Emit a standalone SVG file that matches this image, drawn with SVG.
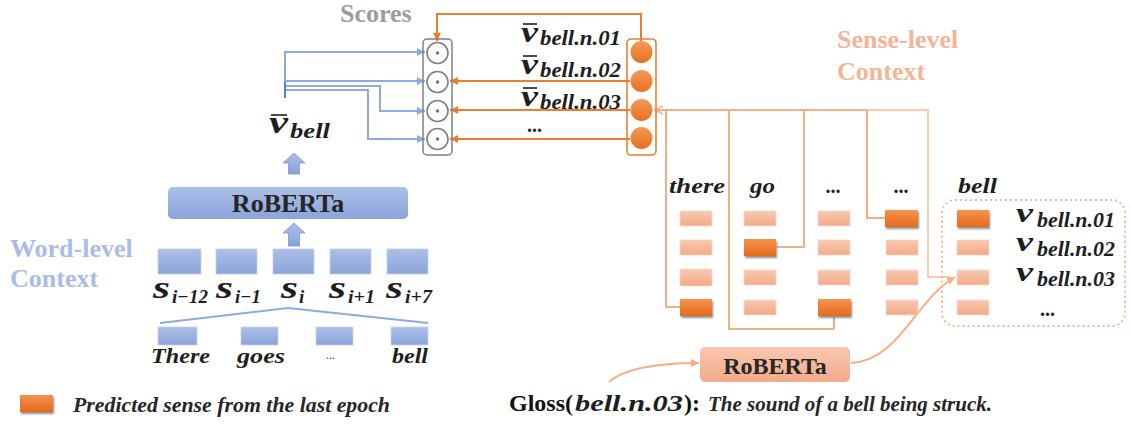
<svg xmlns="http://www.w3.org/2000/svg" width="1130" height="425" viewBox="0 0 1130 425">
  <style>
    .title{font-family:"Liberation Serif","Times New Roman",serif;font-weight:bold}
    .math{font-family:"Liberation Serif","Times New Roman",serif;font-weight:bold;font-style:italic;fill:#1e1e1e}
    .note{font-family:"Liberation Serif",serif;font-weight:bold;font-style:italic;fill:#262626}
    .blueLine{fill:none;stroke:#8faadc;stroke-width:2}
    .orangeLine{fill:none;stroke:#ed7d31;stroke-width:2}
    .salmonLine{fill:none;stroke:#f4ae85;stroke-width:2}
    .paleLine{fill:none;stroke:#f8cbb2;stroke-width:2}
    .wbox{fill:url(#gBlue);stroke:#c3d1ee;stroke-width:0.8}
    .sense{fill:url(#gSalmon);stroke:#fbd9c8;stroke-width:0.8}
    .pred{fill:url(#gOrange);filter:url(#shadow)}
    .scoreCircle{fill:#fff;stroke:#808080;stroke-width:1.6}
    .scoreDot{fill:#707070}
    .vecCircle{fill:url(#gOrangeBall)}
    .bar{stroke:#1e1e1e;stroke-width:1.6}
  </style>
  <defs>
    <linearGradient id="gBlue" x1="0" y1="0" x2="0" y2="1">
      <stop offset="0" stop-color="#acbfe7"/>
      <stop offset="1" stop-color="#8aa3da"/>
    </linearGradient>
    <linearGradient id="gSalmon" x1="0" y1="0" x2="0" y2="1">
      <stop offset="0" stop-color="#f8c8b0"/>
      <stop offset="1" stop-color="#f3aa88"/>
    </linearGradient>
    <linearGradient id="gOrange" x1="0" y1="0" x2="0" y2="1">
      <stop offset="0" stop-color="#f5934d"/>
      <stop offset="1" stop-color="#e56a1b"/>
    </linearGradient>
    <linearGradient id="gOrangeBall" x1="0" y1="0" x2="0" y2="1">
      <stop offset="0" stop-color="#f49a5a"/>
      <stop offset="1" stop-color="#e8701f"/>
    </linearGradient>
    <filter id="shadow" x="-20%" y="-30%" width="150%" height="180%">
      <feDropShadow dx="1" dy="2" stdDeviation="1.2" flood-color="#000" flood-opacity="0.45"/>
    </filter>
    <marker id="arrBlue" viewBox="0 0 10 10" refX="10" refY="5" markerWidth="8" markerHeight="8" markerUnits="userSpaceOnUse" orient="auto">
      <path d="M0,0 L10,5 L0,10 z" fill="#8faadc"/>
    </marker>
    <marker id="arrOrange" viewBox="0 0 10 10" refX="10" refY="5" markerWidth="8" markerHeight="8" markerUnits="userSpaceOnUse" orient="auto">
      <path d="M0,0 L10,5 L0,10 z" fill="#ed7d31"/>
    </marker>
    <marker id="arrOpen" viewBox="0 0 10 10" refX="9" refY="5" markerWidth="10" markerHeight="10" markerUnits="userSpaceOnUse" orient="auto">
      <path d="M1,1 L9,5 L1,9" fill="none" stroke="#f4ae85" stroke-width="1.6"/>
    </marker>
    <marker id="arrSalmon" viewBox="0 0 10 10" refX="10" refY="5" markerWidth="8" markerHeight="8" markerUnits="userSpaceOnUse" orient="auto">
      <path d="M0,0 L10,5 L0,10 z" fill="#f4ae85"/>
    </marker>
  </defs>

  <!-- section titles -->
  <text class="title" x="340" y="22" font-size="26" fill="#9c9c9c">Scores</text>
  <text class="title" x="10" y="257" font-size="26" fill="#a9bce6">Word-level</text>
  <text class="title" x="10" y="287" font-size="26" fill="#a9bce6">Context</text>
  <text class="title" x="837" y="48" font-size="26" fill="#f4b497">Sense-level</text>
  <text class="title" x="837" y="80" font-size="26" fill="#f4b497">Context</text>

  <!-- connectors -->
  <g id="connectors">
    <!-- context vector to the score units -->
    <path class="blueLine" d="M285,98 V52 H425" marker-end="url(#arrBlue)"/>
    <path class="blueLine" d="M285,81 H425" marker-end="url(#arrBlue)"/>
    <path class="blueLine" d="M285,86 H380 V111 H425" marker-end="url(#arrBlue)"/>
    <path class="blueLine" d="M285,90 H368 V139 H425" marker-end="url(#arrBlue)"/>
    <path d="M285,82 V98" stroke="#5b7fc9" stroke-width="2"/>
    <!-- sense vectors to the score units -->
    <path class="orangeLine" d="M641,41 V14 H437 V41" marker-end="url(#arrOrange)"/>
    <path class="orangeLine" d="M630,81 H450" marker-end="url(#arrOrange)"/>
    <path class="orangeLine" d="M630,110 H450" marker-end="url(#arrOrange)"/>
    <path class="orangeLine" d="M630,139 H450" marker-end="url(#arrOrange)"/>
    <!-- predicted senses gathered into the third sense vector -->
    <path class="paleLine" d="M867,110 H928 V277 H950"/>
    <path class="salmonLine" d="M867,110 H655" marker-end="url(#arrOpen)"/>
    <path class="salmonLine" d="M666,110 V307 H680"/>
    <path class="salmonLine" d="M729,110 V329 H834 V317"/>
    <path class="salmonLine" d="M804,110 V247 H777"/>
    <path class="salmonLine" d="M867,110 V218 H886"/>
    <!-- gloss encoding -->
    <path class="salmonLine" d="M609,382 C625,368 660,363 699,363" stroke-width="1.6" marker-end="url(#arrSalmon)"/>
    <path class="salmonLine" d="M851,363 C900,360 915,300 955,277" stroke-width="1.6" marker-end="url(#arrSalmon)"/>
    <!-- tokens to the contextual sentence -->
    <path d="M160,323 L288,308 L428,323" fill="none" stroke="#8faadc" stroke-width="2"/>
  </g>

  <!-- score units -->
  <g id="scores">
    <rect x="423" y="39" width="29" height="116" rx="4" fill="none" stroke="#808080" stroke-width="1.5"/>
    <circle class="scoreCircle" cx="437.5" cy="53" r="10.5"/><circle class="scoreDot" cx="437.5" cy="53" r="1.7"/>
    <circle class="scoreCircle" cx="437.5" cy="82" r="10.5"/><circle class="scoreDot" cx="437.5" cy="82" r="1.7"/>
    <circle class="scoreCircle" cx="437.5" cy="111" r="10.5"/><circle class="scoreDot" cx="437.5" cy="111" r="1.7"/>
    <circle class="scoreCircle" cx="437.5" cy="139" r="10.5"/><circle class="scoreDot" cx="437.5" cy="139" r="1.7"/>
  </g>

  <!-- sense vectors -->
  <g id="sense-vectors">
    <rect x="627" y="39" width="29" height="116" rx="4" fill="none" stroke="#ed7d31" stroke-width="1.6"/>
    <circle class="vecCircle" cx="641.5" cy="52" r="11"/>
    <circle class="vecCircle" cx="641.5" cy="81" r="11"/>
    <circle class="vecCircle" cx="641.5" cy="110" r="11"/>
    <circle class="vecCircle" cx="641.5" cy="138" r="11"/>
    <line class="bar" x1="523" y1="24" x2="537" y2="24"/>
    <text class="math" x="521" y="42" font-size="30" textLength="17" lengthAdjust="spacingAndGlyphs">v</text>
    <text class="math" x="540" y="45" font-size="20" textLength="81" lengthAdjust="spacingAndGlyphs">bell.n.01</text>
    <line class="bar" x1="523" y1="56" x2="537" y2="56"/>
    <text class="math" x="521" y="74" font-size="30" textLength="17" lengthAdjust="spacingAndGlyphs">v</text>
    <text class="math" x="540" y="77" font-size="20" textLength="81" lengthAdjust="spacingAndGlyphs">bell.n.02</text>
    <line class="bar" x1="523" y1="88" x2="537" y2="88"/>
    <text class="math" x="521" y="106" font-size="30" textLength="17" lengthAdjust="spacingAndGlyphs">v</text>
    <text class="math" x="540" y="109" font-size="20" textLength="81" lengthAdjust="spacingAndGlyphs">bell.n.03</text>
    <text class="title" x="527" y="132" font-size="20" fill="#1e1e1e">...</text>
  </g>

  <!-- context vector -->
  <g id="context-vector">
    <line class="bar" x1="271" y1="115" x2="287" y2="115"/>
    <text class="math" x="269" y="133" font-size="32" textLength="19" lengthAdjust="spacingAndGlyphs">v</text>
    <text class="math" x="290" y="138" font-size="22" textLength="40" lengthAdjust="spacingAndGlyphs">bell</text>
    <polygon points="294,153 305,163 299.5,163 299.5,174 288.5,174 288.5,163 283,163" fill="url(#gBlue)" stroke="#7a96d4" stroke-width="0.8"/>
  </g>

  <!-- word-level encoder -->
  <g id="roberta-word">
    <rect x="168" y="187" width="240" height="32" rx="5" fill="url(#gBlue)"/>
    <text class="title" x="288" y="212" font-size="26" fill="#262626" text-anchor="middle">RoBERTa</text>
    <polygon points="294,223 305,233 299.5,233 299.5,246 288.5,246 288.5,233 283,233" fill="url(#gBlue)" stroke="#7a96d4" stroke-width="0.8"/>
  </g>

  <!-- context sentences -->
  <g id="sentences">
    <rect class="wbox" x="158" y="249" width="43" height="25"/>
    <rect class="wbox" x="216" y="249" width="41" height="25"/>
    <rect class="wbox" x="273" y="249" width="41" height="25"/>
    <rect class="wbox" x="330" y="249" width="41" height="25"/>
    <rect class="wbox" x="387" y="249" width="41" height="25"/>
    <text class="math" x="153" y="298" font-size="32" textLength="17" lengthAdjust="spacingAndGlyphs">s</text>
    <text class="math" x="172" y="303" font-size="19" textLength="36" lengthAdjust="spacingAndGlyphs">i−12</text>
    <text class="math" x="216" y="298" font-size="32" textLength="17" lengthAdjust="spacingAndGlyphs">s</text>
    <text class="math" x="235" y="303" font-size="19" textLength="26" lengthAdjust="spacingAndGlyphs">i−1</text>
    <text class="math" x="281" y="298" font-size="32" textLength="17" lengthAdjust="spacingAndGlyphs">s</text>
    <text class="math" x="299" y="303" font-size="19">i</text>
    <text class="math" x="329" y="298" font-size="32" textLength="17" lengthAdjust="spacingAndGlyphs">s</text>
    <text class="math" x="348" y="303" font-size="19" textLength="27" lengthAdjust="spacingAndGlyphs">i+1</text>
    <text class="math" x="386" y="298" font-size="32" textLength="17" lengthAdjust="spacingAndGlyphs">s</text>
    <text class="math" x="405" y="303" font-size="19" textLength="27" lengthAdjust="spacingAndGlyphs">i+7</text>
  </g>

  <!-- tokens of the target sentence -->
  <g id="tokens">
    <rect class="wbox" x="158" y="327" width="39" height="18"/>
    <rect class="wbox" x="241" y="327" width="37" height="18"/>
    <rect class="wbox" x="316" y="327" width="37" height="18"/>
    <rect class="wbox" x="391" y="327" width="37" height="18"/>
    <text class="math" x="151" y="363" font-size="21" textLength="59" lengthAdjust="spacingAndGlyphs">There</text>
    <text class="math" x="237" y="363" font-size="21" textLength="48" lengthAdjust="spacingAndGlyphs">goes</text>
    <text x="326" y="359" font-size="12" font-family="Liberation Serif,serif" fill="#333">...</text>
    <text class="math" x="392" y="363" font-size="21" textLength="36" lengthAdjust="spacingAndGlyphs">bell</text>
  </g>

  <!-- sense-level context columns -->
  <g id="sense-columns">
    <text class="math" x="669" y="193" font-size="21" textLength="56" lengthAdjust="spacingAndGlyphs">there</text>
    <text class="math" x="750" y="193" font-size="21" textLength="25" lengthAdjust="spacingAndGlyphs">go</text>
    <text class="title" x="833" y="193" font-size="20" fill="#1e1e1e" text-anchor="middle">...</text>
    <text class="title" x="901" y="193" font-size="20" fill="#1e1e1e" text-anchor="middle">...</text>
    <text class="math" x="958" y="193" font-size="21" textLength="39" lengthAdjust="spacingAndGlyphs">bell</text>

    <rect class="sense" x="680" y="211" width="32" height="15"/>
    <rect class="sense" x="680" y="240" width="32" height="15"/>
    <rect class="sense" x="680" y="269" width="32" height="17"/>
    <rect class="pred" x="680" y="299" width="32" height="17"/>

    <rect class="sense" x="744" y="211" width="32" height="15"/>
    <rect class="pred" x="744" y="239" width="32" height="17"/>
    <rect class="sense" x="744" y="270" width="32" height="15"/>
    <rect class="sense" x="744" y="300" width="32" height="15"/>

    <rect class="sense" x="818" y="211" width="32" height="15"/>
    <rect class="sense" x="818" y="240" width="32" height="15"/>
    <rect class="sense" x="818" y="270" width="32" height="15"/>
    <rect class="pred" x="818" y="299" width="33" height="17"/>

    <rect class="pred" x="885" y="210" width="33" height="17"/>
    <rect class="sense" x="886" y="240" width="32" height="15"/>
    <rect class="sense" x="886" y="270" width="32" height="15"/>
    <rect class="sense" x="886" y="300" width="32" height="15"/>
  </g>

  <!-- senses of the target word -->
  <g id="target-senses">
    <rect x="942" y="200" width="183" height="126" rx="13" fill="none" stroke="#f4b99a" stroke-width="2" stroke-dasharray="2,3"/>
    <rect class="pred" x="957" y="210" width="32" height="17"/>
    <rect class="sense" x="957" y="240" width="32" height="15"/>
    <rect class="sense" x="957" y="270" width="32" height="15"/>
    <rect class="sense" x="957" y="300" width="32" height="15"/>
    <text class="math" x="1016" y="222" font-size="28" textLength="17" lengthAdjust="spacingAndGlyphs">v</text>
    <text class="math" x="1037" y="227" font-size="20" textLength="78" lengthAdjust="spacingAndGlyphs">bell.n.01</text>
    <text class="math" x="1016" y="251" font-size="28" textLength="17" lengthAdjust="spacingAndGlyphs">v</text>
    <text class="math" x="1037" y="256" font-size="20" textLength="78" lengthAdjust="spacingAndGlyphs">bell.n.02</text>
    <text class="math" x="1016" y="281" font-size="28" textLength="17" lengthAdjust="spacingAndGlyphs">v</text>
    <text class="math" x="1037" y="286" font-size="20" textLength="78" lengthAdjust="spacingAndGlyphs">bell.n.03</text>
    <text class="title" x="1040" y="316" font-size="20" fill="#1e1e1e">...</text>
  </g>

  <!-- gloss encoder -->
  <g id="roberta-gloss">
    <rect x="700" y="347" width="150" height="35" rx="5" fill="url(#gSalmon)"/>
    <text class="title" x="775" y="374" font-size="24" fill="#262626" text-anchor="middle">RoBERTa</text>
  </g>

  <!-- gloss text -->
  <g id="gloss">
    <text class="title" x="509" y="411" font-size="24" fill="#111">Gloss(</text>
    <text class="math" x="575" y="411" font-size="24" textLength="108" lengthAdjust="spacingAndGlyphs">bell.n.03</text>
    <text class="title" x="684" y="411" font-size="24" fill="#111">):</text>
    <text class="note" x="708" y="411" font-size="20" textLength="284" lengthAdjust="spacingAndGlyphs">The sound of a bell being struck.</text>
  </g>

  <!-- legend -->
  <g id="legend">
    <rect class="pred" x="20" y="395" width="33" height="17"/>
    <text class="note" x="73" y="412" font-size="20" textLength="317" lengthAdjust="spacingAndGlyphs">Predicted sense from the last epoch</text>
  </g>
</svg>
